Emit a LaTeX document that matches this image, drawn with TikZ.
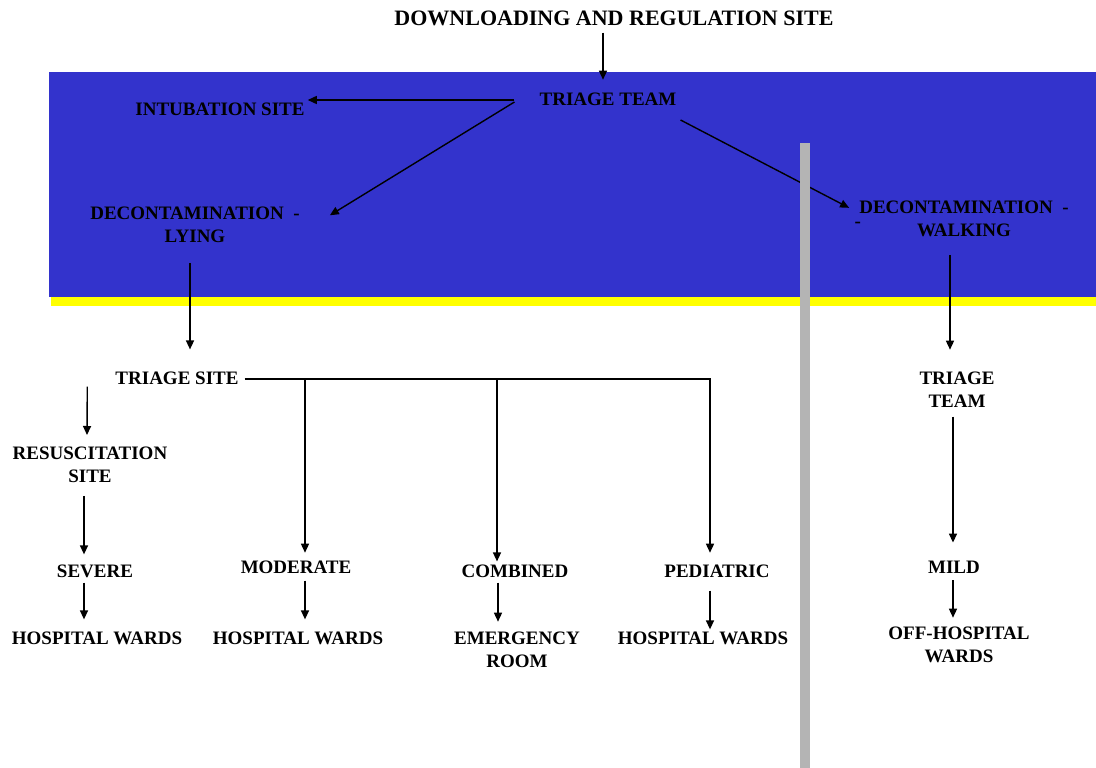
\documentclass[tikz,border=0pt]{standalone}
\usepackage{fontspec}
\setmainfont{Liberation Serif}
\usetikzlibrary{arrows.meta}
\definecolor{bandblue}{RGB}{51,51,204}
\definecolor{bandyellow}{RGB}{255,255,0}
\definecolor{bargray}{RGB}{180,180,180}
\tikzset{
  lbl/.style={inner sep=0pt, align=center, font=\bfseries\fontsize{19}{23}\selectfont, text=black},
  arr/.style={line width=1.4pt, -{Triangle[length=9pt,width=8pt]}},
}
\begin{document}
\begin{tikzpicture}[x=1pt,y=-1pt]
\useasboundingbox (0,0) rectangle (1096,768);
% background bands
\fill[bandblue] (49,72) rectangle (1096,297);
\fill[bandyellow] (51,297) rectangle (1096,306);

% nodes
\node[lbl, font=\bfseries\fontsize{22}{26}\selectfont] (title) at (614,18) {DOWNLOADING AND REGULATION SITE};
\node[lbl] (tt) at (608,99) {TRIAGE TEAM};
\node[lbl] (int) at (220,109) {INTUBATION SITE};
\node[lbl, anchor=north] (deconL) at (195,206.7) {DECONTAMINATION\ \ -\\LYING};
\node[lbl, anchor=north] (deconW) at (964,200.7) {DECONTAMINATION\ \ -\\\llap{\raisebox{9pt}{-}\hspace{56pt}}WALKING};
\node[lbl] (tsite) at (177,378) {TRIAGE SITE};
\node[lbl, anchor=north] (tt2) at (957,371.7) {TRIAGE\\TEAM};
\node[lbl, anchor=north] (res) at (90,446.7) {RESUSCITATION\\SITE};
\node[lbl] (sev) at (95,571) {SEVERE};
\node[lbl] (mod) at (296,567) {MODERATE};
\node[lbl] (comb) at (515,571) {COMBINED};
\node[lbl] (ped) at (717,571) {PEDIATRIC};
\node[lbl] (mild) at (954,567) {MILD};
\node[lbl] (hw1) at (97,638) {HOSPITAL WARDS};
\node[lbl] (hw2) at (298,638) {HOSPITAL WARDS};
\node[lbl, anchor=north] (er) at (517,631.7) {EMERGENCY\\ROOM};
\node[lbl] (hw3) at (703,638) {HOSPITAL WARDS};
\node[lbl, anchor=north] (offh) at (959,626.7) {OFF-HOSPITAL\\WARDS};

% junctions
\coordinate (j1) at (305,379);
\coordinate (j2) at (497,379);

% connectors
\draw[arr] ([xshift=-11pt,yshift=-7pt]title.south) -- ([xshift=-5pt,yshift=12.7pt]tt.north);
\draw[arr] ([xshift=-25pt,yshift=-1pt]tt.west) -- ([xshift=3pt,yshift=9pt]int.east);
\draw[arr] ([xshift=-25pt,yshift=-3pt]tt.west) -- ([xshift=30pt,yshift=9.5pt]deconL.east);
\draw[arr] ([xshift=4pt,yshift=-21pt]tt.east) -- ([xshift=-10pt,yshift=11pt]deconW.west);
\draw[arr] ([xshift=-5pt,yshift=-20pt]deconL.south) -- ([xshift=13pt,yshift=22pt]tsite.north);
\draw[arr] ([xshift=-14pt,yshift=-18pt]deconW.south) -- ([xshift=-7pt,yshift=22pt]tt2.north);
\draw[arr] ([xshift=6pt,yshift=-1pt]tsite.east) -| ([xshift=-7pt,yshift=11.7pt]ped.north);
\draw[arr] (j1) -- ([xshift=9pt,yshift=7.7pt]mod.north);
\draw[arr] (j2) -- ([xshift=-18pt,yshift=3pt]comb.north);
\draw[arr] ([xshift=-28pt,yshift=-2pt]tsite.south west) -- ([xshift=-3pt,yshift=11.7pt]res.north);
\draw[arr] ([xshift=-6pt,yshift=-13pt]res.south) -- ([xshift=-11pt,yshift=10pt]sev.north);
\draw[arr] ([xshift=-11pt,yshift=-5pt]sev.south) -- ([xshift=-13pt,yshift=12pt]hw1.north);
\draw[arr] ([xshift=9pt,yshift=-7pt]mod.south) -- ([xshift=7pt,yshift=12pt]hw2.north);
\draw[arr] ([xshift=-17pt,yshift=-5pt]comb.south) -- ([xshift=-19pt,yshift=10pt]er.north);
\draw[arr] ([xshift=-7pt,yshift=-13pt]ped.south) -- ([xshift=7pt,yshift=2pt]hw3.north);
\draw[arr] ([xshift=-4pt,yshift=-9pt]tt2.south) -- ([xshift=-1pt,yshift=18pt]mild.north);
\draw[arr] ([xshift=-1pt,yshift=-7pt]mild.south) -- ([xshift=-6pt,yshift=9pt]offh.north);

% grey divider
\fill[bargray] (800,143) rectangle (810,768);
\end{tikzpicture}
\end{document}
